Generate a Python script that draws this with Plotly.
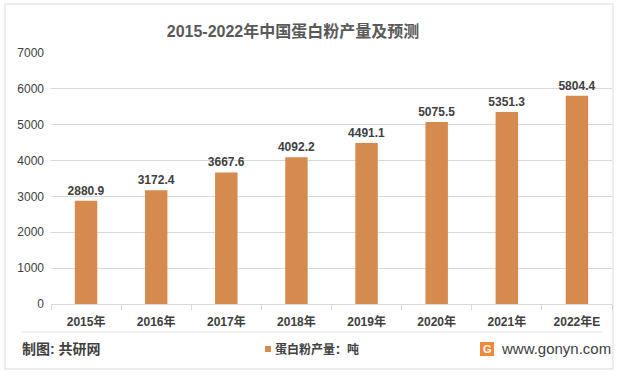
import plotly.graph_objects as go

years = ["2015年", "2016年", "2017年", "2018年", "2019年", "2020年", "2021年", "2022年E"]
production = [2880.9, 3172.4, 3667.6, 4092.2, 4491.1, 5075.5, 5351.3, 5804.4]
series_name = "蛋白粉产量：吨"
title_text = "2015-2022年中国蛋白粉产量及预测"
y_ticks = [0, 1000, 2000, 3000, 4000, 5000, 6000, 7000]

W, H = 618, 377
L, R, T, B = 51, 6, 53, 73
pw, ph = W - L - R, H - T - B

def px(x):
    return (x - L) / pw

def py(y):
    return (H - B - y) / ph

FONT = "Liberation Sans, Noto Sans CJK SC, sans-serif"
BAR = "#D48B4D"

fig = go.Figure()
fig.add_trace(go.Bar(
    x=years, y=production, name=series_name,
    marker=dict(color=BAR, line=dict(width=0)),
    text=[f"{v:.1f}" for v in production],
    textposition="outside", cliponaxis=False, constraintext="none",
    textfont=dict(family=FONT, size=12, color="#404040", weight="bold"),
    showlegend=False,
))

fig.update_layout(
    width=W, height=H,
    margin=dict(l=L, r=R, t=T, b=B),
    paper_bgcolor="white", plot_bgcolor="white",
    bargap=0.68,
    font=dict(family=FONT, color="#404040"),
    title=dict(text="<b>" + title_text + "</b>", x=px(293), xref="paper", xanchor="center",
               y=1 - 31 / H, yanchor="middle",
               font=dict(family=FONT, size=16, color="#595959")),
    xaxis=dict(
        showgrid=False, showline=True, linecolor="#d9d9d9", linewidth=1,
        ticks="outside", tickson="boundaries", tickcolor="#d9d9d9", ticklen=5,
        ticklabelstandoff=7,
        tickfont=dict(family=FONT, size=12, color="#404040", weight="bold"),
        fixedrange=True,
    ),
    yaxis=dict(
        range=[0, 7000], tickvals=y_ticks, showgrid=True, gridcolor="#d9d9d9",
        zeroline=False, showline=False, ticks="",
        tickfont=dict(family=FONT, size=12, color="#404040"),
        ticklabelstandoff=6,
    ),
    shapes=[
        dict(type="rect", xref="paper", yref="paper", x0=px(5), x1=px(613), y0=py(369), y1=py(4),
             line=dict(color="#d9d9d9", width=1)),
        dict(type="line", xref="paper", yref="paper", x0=px(22), x1=px(603), y0=py(332), y1=py(332),
             line=dict(color="#e6e6e6", width=1)),
        dict(type="rect", xref="paper", yref="paper", x0=px(265), x1=px(271), y0=py(352), y1=py(346),
             fillcolor=BAR, line=dict(width=0)),
        dict(type="rect", xref="paper", yref="paper", x0=px(480), x1=px(494), y0=py(356), y1=py(342),
             fillcolor="#F08A3A", line=dict(width=0)),
    ],
    annotations=[
        dict(text="<b>制图: 共研网</b>", xref="paper", yref="paper", x=px(20), y=py(349),
             xanchor="left", yanchor="middle", showarrow=False,
             font=dict(family=FONT, size=14, color="#404040")),
        dict(text="<b>" + series_name + "</b>", xref="paper", yref="paper", x=px(273), y=py(349),
             xanchor="left", yanchor="middle", showarrow=False,
             font=dict(family=FONT, size=12, color="#404040")),
        dict(text="<b>G</b>", xref="paper", yref="paper", x=px(487), y=py(349),
             xanchor="center", yanchor="middle", showarrow=False,
             font=dict(family=FONT, size=11, color="white")),
        dict(text="www.gonyn.com", xref="paper", yref="paper", x=px(613), y=py(348),
             xanchor="right", yanchor="middle", showarrow=False,
             font=dict(family=FONT, size=15, color="#404040")),
    ],
)

fig.write_html("out.html", post_script="document.body.style.margin='0';",
               config={"displayModeBar": False})
